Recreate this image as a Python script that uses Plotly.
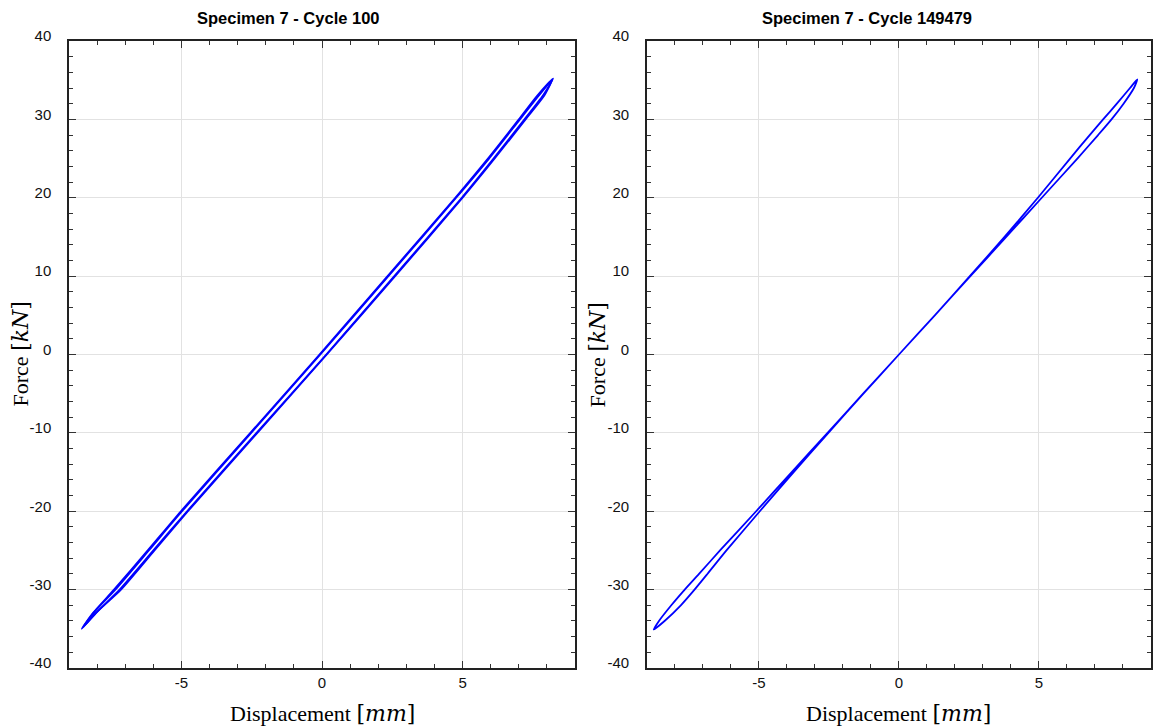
import plotly.graph_objects as go
from plotly.subplots import make_subplots

# ---------------- data ----------------
titles = ["Specimen 7 - Cycle 100", "Specimen 7 - Cycle 149479"]

# Cycle 100 (left) - loop A
c100a_disp = [-8.55, -8.05, -7.20, -6.00, -4.80, -2.33, 0.15, 2.57, 4.97, 6.10, 7.20, 7.85, 8.22,
              7.65, 7.00, 5.90, 4.74, 2.33, -0.09, -2.55, -5.02, -6.20, -7.40, -8.15, -8.55]
c100a_force = [-35.0, -33.0, -30.0, -25.0, -20.0, -10.0, 0.0, 10.0, 20.0, 25.0, 30.0, 33.0, 35.2,
               33.0, 30.0, 25.0, 20.0, 10.0, 0.0, -10.0, -20.0, -25.0, -30.0, -33.0, -35.0]
# Cycle 100 (left) - loop B (neighbouring cycle, nearly overlapping)
c100b_disp = [-8.50, -7.99, -7.15, -5.96, -4.77, -2.30, 0.17, 2.60, 5.00, 6.14, 7.24, 7.90, 8.18,
              7.70, 7.04, 5.94, 4.77, 2.36, -0.06, -2.52, -4.98, -6.16, -7.35, -8.09, -8.50]
c100b_force = [-34.8, -32.8, -30.0, -25.0, -20.0, -10.0, 0.0, 10.0, 20.0, 25.0, 30.0, 33.0, 35.0,
               33.0, 30.0, 25.0, 20.0, 10.0, 0.0, -10.0, -20.0, -25.0, -30.0, -32.8, -34.8]

# Cycle 149479 (right)
c149_disp = [-8.76, -8.37, -7.79, -7.30, -6.84, -6.16, -4.97, -3.76, -2.52, -1.27, 0.00,
             1.28, 2.55, 3.83, 5.10, 6.37, 7.11, 7.59, 8.02, 8.39, 8.51,
             8.25, 7.78, 7.29, 6.81, 6.11, 4.96, 3.77, 2.53, 1.28, 0.00,
             -1.28, -2.55, -3.83, -5.10, -6.39, -7.14, -7.65, -8.13, -8.57, -8.76]
c149_force = [-35.1, -34.0, -32.0, -30.0, -28.0, -25.0, -20.0, -15.0, -10.0, -5.0, 0.0,
              5.0, 10.0, 15.0, 20.0, 25.0, 28.0, 30.0, 32.0, 34.0, 35.1,
              34.0, 32.0, 30.0, 28.0, 25.0, 20.0, 15.0, 10.0, 5.0, 0.0,
              -5.0, -10.0, -15.0, -20.0, -25.0, -28.0, -30.0, -32.0, -34.0, -35.1]

x_tickvals = [-5, 0, 5]
x_ticktext = ["-5", "0", "5"]
y_tickvals = [-40, -30, -20, -10, 0, 10, 20, 30, 40]
y_ticktext = ["-40", "-30", "-20", "-10", "0", "10", "20", "30", "40"]

# ---------------- figure ----------------
W, H = 1153, 726
ML, MR, MT, MB = 69, 0, 41, 58
PW = W - ML - MR
left_dom = [0, 507 / PW]
right_dom = [579 / PW, 1]

fig = make_subplots(rows=1, cols=2)
fig.update_layout(
    xaxis=dict(domain=left_dom),
    xaxis2=dict(domain=right_dom),
)

blue = "rgb(0,0,255)"
fig.add_trace(go.Scatter(x=c100a_disp, y=c100a_force, mode="lines",
                         line=dict(color=blue, width=1.8, shape="spline", smoothing=0.6),
                         showlegend=False), row=1, col=1)
fig.add_trace(go.Scatter(x=c100b_disp, y=c100b_force, mode="lines",
                         line=dict(color=blue, width=1.8, shape="spline", smoothing=0.6),
                         showlegend=False), row=1, col=1)
fig.add_trace(go.Scatter(x=c149_disp, y=c149_force, mode="lines",
                         line=dict(color=blue, width=1.8, shape="spline", smoothing=0.6),
                         showlegend=False), row=1, col=2)

axis_common = dict(
    showline=True, linecolor="#222", linewidth=1.5, mirror="ticks",
    ticks="inside", ticklen=7, tickwidth=1.2, tickcolor="#333",
    showgrid=True, gridcolor="rgb(226,226,226)", gridwidth=1,
    zeroline=False,
    tickfont=dict(family="Liberation Sans, Arial", size=15, color="#111"),
)
for c in (1, 2):
    fig.update_xaxes(range=[-9, 9], tickvals=x_tickvals, ticktext=x_ticktext,
                     minor=dict(dtick=1, tick0=0, ticks="inside", ticklen=4,
                                tickcolor="#333", tickwidth=1, showgrid=False),
                     **axis_common, row=1, col=c)
    fig.update_yaxes(range=[-40, 40], tickvals=y_tickvals, ticktext=y_ticktext,
                     minor=dict(dtick=2, tick0=0, ticks="inside", ticklen=4,
                                tickcolor="#333", tickwidth=1, showgrid=False),
                     ticklabelstandoff=13, ticklabelshift=-5,
                     **axis_common, row=1, col=c)

math = '<span style="font-family:DejaVu Serif">[<i>{}</i>]</span>'
title_centers_px = [289, 868]
annotations = []
for dom, t, tcx in zip((left_dom, right_dom), titles, title_centers_px):
    cx = (dom[0] + dom[1]) / 2
    annotations.append(dict(text="<b>" + t + "</b>", x=(tcx - ML) / PW, xref="paper",
                            xanchor="center",
                            y=1, yref="paper", yanchor="middle", yshift=23, showarrow=False,
                            font=dict(family="Liberation Sans, Arial", size=16.5, color="#000")))
    annotations.append(dict(text="Displacement " + math.format("mm"), x=cx, xref="paper",
                            xanchor="center",
                            y=0, yref="paper", yanchor="middle", yshift=-45, showarrow=False,
                            font=dict(family="Liberation Serif, Times New Roman", size=22, color="#000")))
    annotations.append(dict(text="Force " + math.format("kN"), x=dom[0], xref="paper",
                            xanchor="center",
                            xshift=-49, y=0.5, yref="paper", yanchor="middle",
                            textangle=-90, showarrow=False,
                            font=dict(family="Liberation Serif, Times New Roman", size=22, color="#000")))

fig.update_layout(
    width=W, height=H,
    margin=dict(l=ML, r=MR, t=MT, b=MB),
    paper_bgcolor="white", plot_bgcolor="white",
    annotations=annotations,
)

fig.write_html("out.html", config={"displayModeBar": False},
               post_script="document.body.style.margin='0';document.body.style.overflow='hidden';")
